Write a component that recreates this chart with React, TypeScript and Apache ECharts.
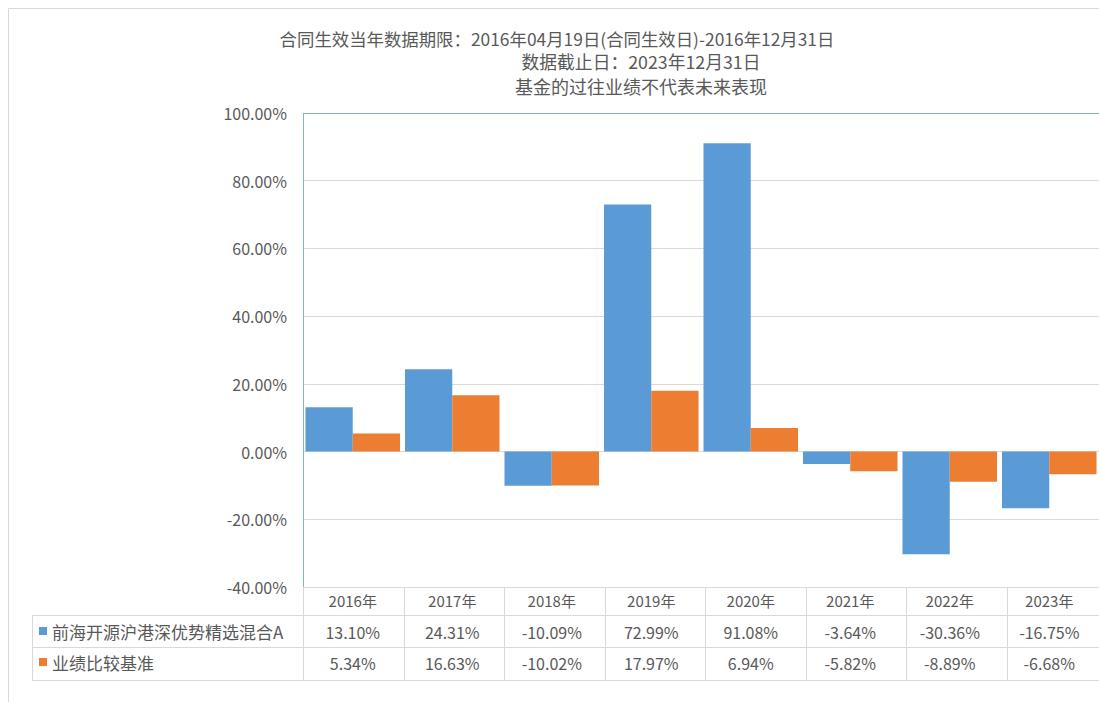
import React, { useEffect, useRef } from "react";
import * as echarts from "echarts";

const categories = ["2016年", "2017年", "2018年", "2019年", "2020年", "2021年", "2022年", "2023年"];
const fundName = "前海开源沪港深优势精选混合A";
const benchName = "业绩比较基准";
const fundValues = [13.1, 24.31, -10.09, 72.99, 91.08, -3.64, -30.36, -16.75];
const benchValues = [5.34, 16.63, -10.02, 17.97, 6.94, -5.82, -8.89, -6.68];
const titleLines = [
  "合同生效当年数据期限：2016年04月19日(合同生效日)-2016年12月31日",
  "数据截止日：2023年12月31日",
  "基金的过往业绩不代表未来表现",
];
const yMin = -40;
const yMax = 100;
const yStep = 20;

const BLUE = "#5B9BD5";
const ORANGE = "#ED7D31";
const TXT = "#595959";
const LINE = "#d9d9d9";
const FONT = "'Noto Sans CJK SC', 'Noto Sans', sans-serif";

const fmt = (v: number) => v.toFixed(2) + "%";

export default function App() {
  const ref = useRef<HTMLDivElement>(null);
  useEffect(() => {
    document.body.style.margin = "0";
    const chart = echarts.init(ref.current!, null, { renderer: "svg" });
    const W = 1099;
    const gridLeft = 303;
    const gridTop = 113;
    const catW = 100.5;
    const gridW = catW * categories.length;
    const gridBottomY = 587;
    const row1 = 615;
    const row2 = 647;
    const row3 = 680;
    const tableLeft = 32;

    const lines: any[] = [];
    const hl = (y: number, x1: number, x2: number, color = LINE) =>
      lines.push({ type: "line", shape: { x1, y1: y + 0.5, x2, y2: y + 0.5 }, style: { stroke: color, lineWidth: 1 }, z: 10 });
    const vl = (x: number, y1: number, y2: number, color = LINE) =>
      lines.push({ type: "line", shape: { x1: x + 0.5, y1, x2: x + 0.5, y2 }, style: { stroke: color, lineWidth: 1 }, z: 10 });
    hl(gridBottomY, gridLeft, W);
    hl(row1, tableLeft, W);
    hl(row2, tableLeft, W);
    hl(row3, tableLeft, W);
    vl(tableLeft, row1, row3 + 1);
    vl(gridLeft, gridBottomY, row3 + 1);
    for (let i = 1; i < categories.length; i++) vl(Math.round(gridLeft + i * catW), gridBottomY, row3 + 1);
    // plot area selection border (top + left)
    hl(gridTop, gridLeft, W, "#7fb0e2");
    vl(gridLeft, gridTop, gridBottomY, "#7fb0e2");

    chart.setOption({
      animation: false,
      textStyle: { fontFamily: FONT },
      graphic: [
        { type: "rect", shape: { x: 8.5, y: 8.5, width: 1300, height: 1300 }, style: { fill: "none", stroke: LINE, lineWidth: 1 } },
        { type: "text", x: 557, y: 38, style: { text: titleLines[0], fill: TXT, font: `17.4px ${FONT}`, textAlign: "center", textVerticalAlign: "middle" } },
        { type: "text", x: 641, y: 61, style: { text: titleLines[1], fill: TXT, font: `17.8px ${FONT}`, textAlign: "center", textVerticalAlign: "middle" } },
        { type: "text", x: 641, y: 86, style: { text: titleLines[2], fill: TXT, font: `18px ${FONT}`, textAlign: "center", textVerticalAlign: "middle" } },
        ...lines,
        { type: "rect", shape: { x: 39, y: 627, width: 8, height: 8 }, style: { fill: BLUE } },
        { type: "rect", shape: { x: 39, y: 658, width: 8, height: 8 }, style: { fill: ORANGE } },
        { type: "text", x: 52, y: 631, style: { text: fundName, fill: TXT, font: `17px ${FONT}`, textVerticalAlign: "middle" } },
        { type: "text", x: 52, y: 662, style: { text: benchName, fill: TXT, font: `17px ${FONT}`, textVerticalAlign: "middle" } },
      ],
      grid: { left: gridLeft, top: gridTop, width: gridW, height: gridBottomY - gridTop },
      xAxis: [
        {
          type: "category",
          data: categories,
          position: "bottom",
          axisLine: { show: false, onZero: false },
          axisTick: { show: false },
          axisLabel: { color: TXT, fontSize: 15, margin: 6 },
        },
        {
          type: "category",
          data: categories,
          position: "bottom",
          offset: 31,
          axisLine: { show: false, onZero: false },
          axisTick: { show: false },
          axisLabel: { color: TXT, fontSize: 16, margin: 6, formatter: (_v: string, i: number) => fmt(fundValues[i]) },
        },
        {
          type: "category",
          data: categories,
          position: "bottom",
          offset: 62,
          axisLine: { show: false, onZero: false },
          axisTick: { show: false },
          axisLabel: { color: TXT, fontSize: 16, margin: 6, formatter: (_v: string, i: number) => fmt(benchValues[i]) },
        },
      ],
      yAxis: {
        type: "value",
        min: yMin,
        max: yMax,
        interval: yStep,
        axisLine: { show: false },
        axisTick: { show: false },
        axisLabel: { color: TXT, fontSize: 16, margin: 16, formatter: (v: number) => fmt(v) },
        splitLine: { lineStyle: { color: LINE, width: 1 } },
      },
      series: [
        { name: fundName, type: "bar", data: fundValues, itemStyle: { color: BLUE }, barGap: "0%", barCategoryGap: "5%" },
        { name: benchName, type: "bar", data: benchValues, itemStyle: { color: ORANGE }, barGap: "0%", barCategoryGap: "5%" },
      ],
    });
    return () => chart.dispose();
  }, []);
  return <div ref={ref} style={{ width: 1099, height: 702 }} />;
}
